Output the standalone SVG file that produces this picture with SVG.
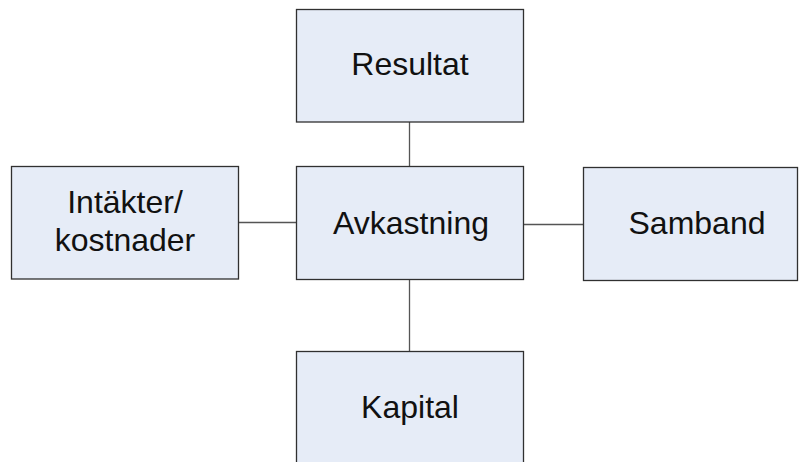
<svg xmlns="http://www.w3.org/2000/svg" width="800" height="462" viewBox="0 0 800 462">
  <style>
    .box { fill: #E6ECF7; stroke: #303030; stroke-width: 1.3; }
    .lbl { font-family: "Liberation Sans", Arial, sans-serif; font-size: 32px; fill: #111; text-anchor: middle; }
    .conn { stroke: #555; stroke-width: 1.3; fill: none; }
  </style>
  <rect width="800" height="462" fill="#fff"/>
  <g id="connectors">
    <line class="conn" x1="409.5" y1="122" x2="409.5" y2="166.5"/>
    <line class="conn" x1="409.5" y1="279.5" x2="409.5" y2="351.5"/>
    <line class="conn" x1="238.5" y1="222.5" x2="296.5" y2="222.5"/>
    <line class="conn" x1="523.5" y1="224.5" x2="583.5" y2="224.5"/>
  </g>
  <g id="resultat">
    <rect class="box" x="296.5" y="9.5" width="227" height="112.5"/>
    <text class="lbl" x="410" y="75">Resultat</text>
  </g>
  <g id="avkastning">
    <rect class="box" x="296.5" y="166.5" width="227" height="113"/>
    <text class="lbl" x="411" y="234">Avkastning</text>
  </g>
  <g id="intakter">
    <rect class="box" x="11.5" y="166.5" width="227" height="112.5"/>
    <text class="lbl" x="125" y="213">Intäkter/</text>
    <text class="lbl" x="125" y="251">kostnader</text>
  </g>
  <g id="samband">
    <rect class="box" x="583.5" y="167.5" width="214" height="113"/>
    <text class="lbl" x="697" y="234">Samband</text>
  </g>
  <g id="kapital">
    <rect class="box" x="296.5" y="351.5" width="227" height="120"/>
    <text class="lbl" x="410" y="418">Kapital</text>
  </g>
</svg>
